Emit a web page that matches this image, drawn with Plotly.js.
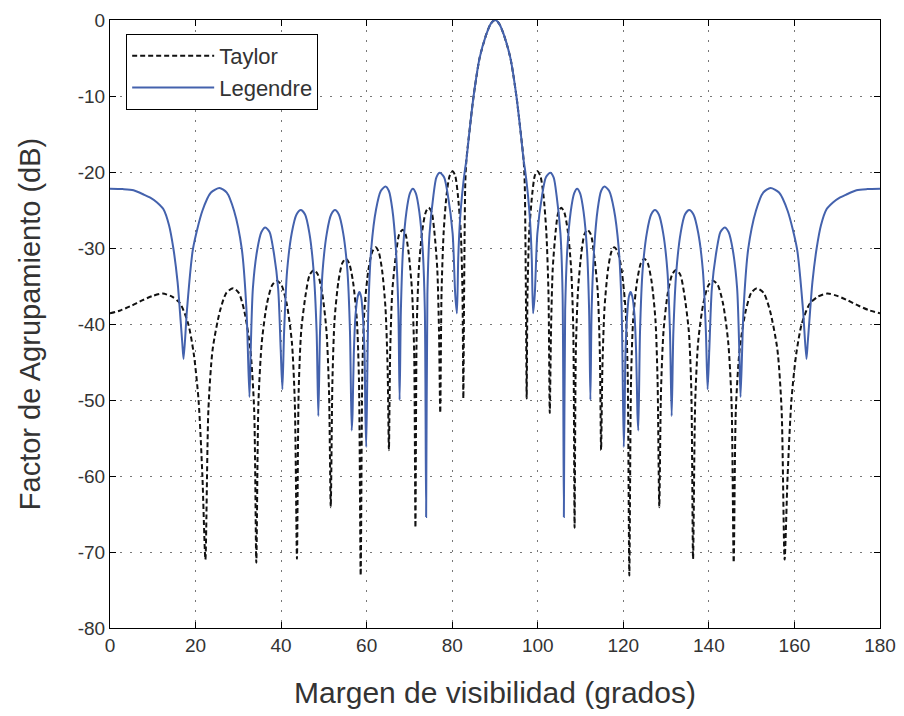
<!DOCTYPE html>
<html>
<head>
<meta charset="utf-8">
<script src="https://cdn.plot.ly/plotly-3.0.1.min.js"></script>
<style>
html,body{margin:0;padding:0;background:#fff;}
#chart{width:904px;height:716px;}
</style>
</head>
<body>
<div id="chart"></div>
<script>
// Angle (degrees) and level (dB)
const taylorX = [0,2.5,5.0,7.5,10.0,12.3,14.5,16.4,18.3,19.6,20.7,21.6,22.3,
23.0,24.0,25.7,27.2,28.8,30.1,31.4,32.8,33.7,34.2,
34.7,35.5,36.7,37.9,39.0,40.1,41.3,42.5,43.2,43.7,
44.1,44.7,45.8,46.7,47.7,48.6,49.6,50.6,51.2,51.6,
52.0,52.5,53.4,54.3,55.1,55.9,56.8,57.7,58.2,58.6,
59.0,59.5,60.4,61.3,62.1,62.8,63.6,64.4,64.9,65.2,
65.5,66.0,66.9,67.6,68.4,69.1,69.8,70.6,71.1,71.4,
71.7,72.2,73.0,73.8,74.5,75.2,75.8,76.5,76.9,77.2,
77.5,78.0,78.7,79.4,80.1,80.7,81.3,82.0,82.4,82.6,
82.75,82.9,83.05,83.3,84.0,85.0,86.4,87.9,89.0,90.0,
91.0,92.1,93.6,95.0,96.0,96.7,96.95,97.1,97.25,97.4,
97.6,98.0,98.7,99.3,99.9,100.6,101.3,102.0,102.5,102.8,
103.1,103.5,104.2,104.8,105.5,106.2,107.0,107.8,108.3,108.6,
108.9,109.4,110.2,110.9,111.6,112.4,113.1,114.0,114.5,114.8,
115.1,115.6,116.4,117.2,117.9,118.7,119.6,120.5,121.0,121.4,
121.8,122.3,123.2,124.1,124.9,125.7,126.6,127.5,128.0,128.4,
128.8,129.4,130.4,131.4,132.3,133.3,134.2,135.3,135.9,136.3,
136.8,137.5,138.7,139.9,141.0,142.1,143.3,144.5,145.3,145.8,
146.3,147.2,148.6,149.9,151.2,152.8,154.3,156.0,157.0,157.7,
158.4,159.3,160.4,161.7,163.6,165.5,167.7,170.0,172.5,175.0,177.5,180.0];
const taylorDb = [-38.6,-38.2,-37.6,-36.9,-36.3,-36.0,-36.4,-37.3,-40.0,-44.0,-50.0,-60.0,-71.0,
-51.3,-43.3,-38.3,-35.9,-35.3,-35.9,-38.3,-43.3,-51.3,-71.4,
-50.3,-42.3,-37.3,-34.9,-34.3,-34.9,-37.3,-42.3,-50.3,-70.9,
-48.9,-40.9,-35.9,-33.5,-32.9,-33.5,-35.9,-40.9,-48.9,-64.1,
-47.4,-39.4,-34.4,-32.0,-31.4,-32.0,-34.4,-39.4,-47.4,-73.1,
-45.9,-37.9,-32.9,-30.5,-29.9,-30.5,-32.9,-37.9,-45.9,-56.6,
-43.6,-35.6,-30.6,-28.2,-27.6,-28.2,-30.6,-35.6,-43.6,-66.8,
-40.7,-32.7,-27.7,-25.3,-24.7,-25.3,-27.7,-32.7,-40.7,-51.7,
-35.9,-27.9,-22.9,-20.5,-19.9,-20.5,-22.9,-27.9,-35.9,-49.8,
-38.0,-28.0,-21.5,-18.5,-14.8,-10.0,-5.0,-2.0,-0.5,0,
-0.5,-2.0,-5.0,-10.0,-14.8,-18.5,-21.5,-28.0,-38.0,-49.8,
-35.9,-27.9,-22.9,-20.5,-19.9,-20.5,-22.9,-27.9,-35.9,-51.7,
-40.7,-32.7,-27.7,-25.3,-24.7,-25.3,-27.7,-32.7,-40.7,-66.8,
-43.6,-35.6,-30.6,-28.2,-27.6,-28.2,-30.6,-35.6,-43.6,-56.6,
-45.9,-37.9,-32.9,-30.5,-29.9,-30.5,-32.9,-37.9,-45.9,-73.1,
-47.4,-39.4,-34.4,-32.0,-31.4,-32.0,-34.4,-39.4,-47.4,-64.1,
-48.9,-40.9,-35.9,-33.5,-32.9,-33.5,-35.9,-40.9,-48.9,-70.9,
-50.3,-42.3,-37.3,-34.9,-34.3,-34.9,-37.3,-42.3,-50.3,-71.4,
-51.3,-43.3,-38.3,-35.9,-35.3,-35.9,-38.3,-43.3,-51.3,-71.0,
-60.0,-50.0,-44.0,-40.0,-37.3,-36.4,-36.0,-36.3,-36.9,-37.6,-38.2,-38.6];

const legendreX = [0,3.0,5.5,8.0,9.5,11.0,12.5,13.8,14.8,15.8,16.5,16.9,17.2,
18.0,19.4,21.6,23.6,25.6,27.3,29.0,30.8,31.9,32.6,
32.9,33.4,34.4,35.4,36.3,37.3,38.2,39.3,39.9,40.3,
40.7,41.4,42.5,43.6,44.6,45.6,46.6,47.6,48.3,48.7,
49.1,49.7,50.7,51.7,52.6,53.5,54.5,55.5,56.1,56.5,
56.7,57.0,57.4,57.9,58.3,58.7,59.1,59.5,59.7,59.9,
60.4,61.1,62.2,63.3,64.4,65.2,66.0,66.8,67.4,67.7,
68.0,68.5,69.3,70.1,70.8,71.5,72.3,73.1,73.6,73.9,
74.2,74.7,75.6,76.3,77.1,78.1,79.0,80.1,80.7,81.1,
81.4,81.8,82.3,83.0,83.3,84.0,85.0,86.4,87.9,89.0,90.0,
91.0,92.1,93.6,95.0,96.0,96.7,97.0,97.7,98.2,98.6,98.9,
99.3,99.9,101.0,101.9,102.9,103.7,104.4,105.3,105.8,106.1,
106.4,106.9,107.7,108.5,109.2,109.9,110.7,111.5,112.0,112.3,
112.6,113.2,114.0,114.8,115.6,116.7,117.8,118.9,119.6,120.1,
120.3,120.5,120.9,121.3,121.7,122.1,122.6,123.0,123.3,123.5,
123.9,124.5,125.5,126.5,127.4,128.3,129.3,130.3,130.9,131.3,
131.7,132.4,133.4,134.4,135.4,136.4,137.5,138.6,139.3,139.7,
140.1,140.7,141.8,142.7,143.7,144.6,145.6,146.6,147.1,147.4,
148.1,149.2,151.0,152.7,154.4,156.4,158.4,160.6,162.0,162.8,
163.1,163.5,164.2,165.2,166.2,167.5,169.0,170.5,172.0,174.5,177.0,180.0];
const legendreDb = [-22.2,-22.25,-22.4,-23.0,-23.4,-24.0,-24.9,-27.0,-30.0,-34.5,-39.5,-42.5,-44.6,
-38.1,-30.1,-25.1,-22.7,-22.1,-22.7,-25.1,-30.1,-38.1,-49.6,
-43.3,-35.3,-30.3,-27.9,-27.3,-27.9,-30.3,-35.3,-43.3,-48.6,
-41.0,-33.0,-28.0,-25.6,-25.0,-25.6,-28.0,-33.0,-41.0,-52.1,
-41.0,-33.0,-28.0,-25.6,-25.0,-25.6,-28.0,-33.0,-41.0,-54.0,
-51.8,-43.8,-38.8,-36.4,-35.8,-36.4,-38.8,-43.8,-51.8,-56.2,
-37.9,-29.9,-24.9,-22.5,-21.9,-22.5,-24.9,-29.9,-37.9,-50.0,
-38.2,-30.2,-25.2,-22.8,-22.2,-22.8,-25.2,-30.2,-38.2,-65.4,
-36.1,-28.1,-23.1,-20.7,-20.1,-20.7,-23.1,-28.1,-36.1,-38.6,
-31.5,-26.5,-23.0,-19.6,-18.5,-14.8,-10.0,-5.0,-2.0,-0.5,0,
-0.5,-2.0,-5.0,-10.0,-14.8,-18.5,-19.6,-23.0,-26.5,-31.5,-38.6,
-36.1,-28.1,-23.1,-20.7,-20.1,-20.7,-23.1,-28.1,-36.1,-65.4,
-38.2,-30.2,-25.2,-22.8,-22.2,-22.8,-25.2,-30.2,-38.2,-50.0,
-37.9,-29.9,-24.9,-22.5,-21.9,-22.5,-24.9,-29.9,-37.9,-56.2,
-51.8,-43.8,-38.8,-36.4,-35.8,-36.4,-38.8,-43.8,-51.8,-54.0,
-41.0,-33.0,-28.0,-25.6,-25.0,-25.6,-28.0,-33.0,-41.0,-52.1,
-41.0,-33.0,-28.0,-25.6,-25.0,-25.6,-28.0,-33.0,-41.0,-48.6,
-43.3,-35.3,-30.3,-27.9,-27.3,-27.9,-30.3,-35.3,-43.3,-49.6,
-38.1,-30.1,-25.1,-22.7,-22.1,-22.7,-25.1,-30.1,-38.1,-44.6,
-42.5,-39.5,-34.5,-30.0,-27.0,-24.9,-24.0,-23.4,-23.0,-22.4,-22.25,-22.2];

const seriesNames = ["Taylor", "Legendre"];
const xTicks = [0,20,40,60,80,100,120,140,160,180];
const yTicks = [0,-10,-20,-30,-40,-50,-60,-70,-80];

const FONT = "Liberation Sans, Arial, sans-serif";

const traces = [
  {x: taylorX, y: taylorDb, name: seriesNames[0], type: "scatter", mode: "lines",
   line: {color: "#111111", width: 2, dash: "5px,3px", shape: "spline", smoothing: 0.7}},
  {x: legendreX, y: legendreDb, name: seriesNames[1], type: "scatter", mode: "lines",
   line: {color: "#4462ad", width: 2, shape: "spline", smoothing: 0.7}}
];

const axisCommon = {
  showline: true, linecolor: "#000", linewidth: 1, mirror: "allticks",
  ticks: "inside", ticklen: 6, tickcolor: "#000", tickwidth: 1,
  showgrid: true, gridcolor: "#777", gridwidth: 1, griddash: "2px,8px",
  zeroline: false,
  tickfont: {family: FONT, size: 19, color: "#333"}
};

const layout = {
  width: 904, height: 716,
  margin: {l: 110, r: 24, t: 20, b: 88},
  paper_bgcolor: "#fff", plot_bgcolor: "#fff",
  font: {family: FONT, color: "#333"},
  showlegend: true,
  legend: {x: 0.021, y: 0.977, xanchor: "left", yanchor: "top",
    bgcolor: "#fff", bordercolor: "#000", borderwidth: 1,
    font: {family: FONT, size: 22, color: "#333"}, itemwidth: 82, tracegroupgap: 0},
  xaxis: Object.assign({}, axisCommon, {
    range: [0, 180], tickvals: xTicks, ticktext: xTicks.map(String),
    title: {text: "Margen de visibilidad (grados)", font: {family: FONT, size: 30, color: "#333"}, standoff: 27}
  }),
  yaxis: Object.assign({}, axisCommon, {
    range: [-80, 0], tickvals: yTicks, ticktext: yTicks.map(String),
    title: {text: "Factor de Agrupamiento (dB)", font: {family: FONT, size: 29, color: "#333"}, standoff: 28}
  })
};

Plotly.newPlot("chart", traces, layout, {staticPlot: true, displayModeBar: false});
</script>
</body>
</html>
